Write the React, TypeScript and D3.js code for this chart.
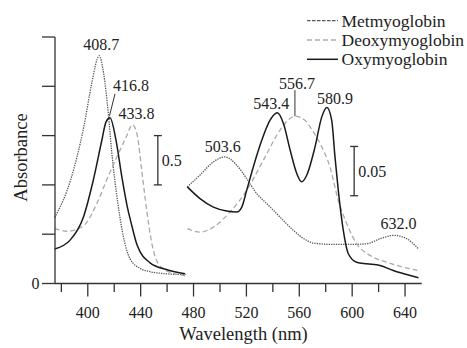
import React from 'react';
import * as d3 from 'd3';

const W = 467;
const H = 348;

// axis ticks
const xMajorTicks = [400, 440, 480, 520, 560, 600, 640];
const xMinorTicks = [380, 420, 460, 500, 540, 580, 620];
const yTicks = [0, 0.5, 1, 1.5, 2, 2.5];

// Soret region (left panel)
const metLeftWl = [375, 387, 397, 403, 407, 408.7, 412, 415.5, 418, 423, 427.5, 432, 440, 447, 458, 474];
const metLeftAbs = [0.67, 1.05, 1.59, 2.03, 2.27, 2.31, 2.13, 1.73, 1.35, 0.79, 0.44, 0.25, 0.15, 0.12, 0.1, 0.09];
const oxyLeftWl = [375, 386.6, 396.6, 404.2, 410.6, 413.8, 416.8, 421.4, 425.9, 429.7, 432.7, 437.3, 447.1, 460, 473.6];
const oxyLeftAbs = [0.35, 0.44, 0.67, 1.05, 1.45, 1.64, 1.68, 1.45, 1.07, 0.79, 0.62, 0.39, 0.21, 0.14, 0.1];
const deoxyLeftWl = [375, 384.1, 391.6, 399.2, 406.8, 414.3, 421.9, 428.9, 433.8, 437.3, 440.8, 444.6, 448.4, 453.4, 460.9, 473.6];
const deoxyLeftAbs = [0.56, 0.53, 0.55, 0.62, 0.81, 1.05, 1.28, 1.48, 1.61, 1.51, 1.15, 0.74, 0.41, 0.2, 0.12, 0.08];

// Q-band region (right panel, x10 scale)
const metRightWl = [475.3, 484.9, 495, 503.6, 512.7, 520.2, 527.8, 535.4, 545.4, 555.5, 565.6, 570.6, 585.8, 598.4, 611, 621.1, 632, 641.3, 650.1];
const metRightAbs = [0.098, 0.11, 0.1233, 0.1284, 0.12, 0.1064, 0.0912, 0.081, 0.0674, 0.0539, 0.0437, 0.041, 0.0396, 0.0396, 0.0403, 0.0454, 0.0488, 0.0454, 0.0353];
const oxyRightWl = [475.3, 484.9, 495, 505.1, 512.7, 516.5, 520.2, 525.2, 531.6, 537.9, 543.4, 548, 553.1, 558.1, 561.7, 565.6, 571.9, 577, 580.9, 584.5, 587, 589.5, 593.3, 597.1, 603.4, 611, 621.1, 631.1, 641.3, 650.1];
const oxyRightAbs = [0.098, 0.0861, 0.0775, 0.0735, 0.0725, 0.0775, 0.0945, 0.1182, 0.1453, 0.1657, 0.1731, 0.1623, 0.1352, 0.1115, 0.1031, 0.1098, 0.1385, 0.169, 0.1786, 0.1657, 0.1284, 0.0945, 0.0539, 0.0302, 0.0216, 0.02, 0.0183, 0.0132, 0.0091, 0.0058];
const deoxyRightWl = [475.3, 484.9, 495, 507.6, 520.2, 532.8, 545.4, 553, 556.7, 565.6, 568.1, 575.7, 583.2, 589.5, 595.9, 603.4, 613.5, 626.1, 638.7, 650.1];
const deoxyRightAbs = [0.0556, 0.0521, 0.0572, 0.0725, 0.0945, 0.125, 0.1555, 0.1674, 0.1697, 0.1639, 0.1588, 0.142, 0.1182, 0.0843, 0.0607, 0.0403, 0.0285, 0.0216, 0.0166, 0.0132];

// peak labels
const leftPeaks = [
  { label: '408.7', wl: 408.7, abs: 2.31 },
  { label: '416.8', wl: 416.8, abs: 1.68 },
  { label: '433.8', wl: 433.8, abs: 1.61 },
];
const rightPeaks = [
  { label: '503.6', wl: 503.6, abs: 0.1284 },
  { label: '543.4', wl: 543.4, abs: 0.1731 },
  { label: '556.7', wl: 556.7, abs: 0.1697 },
  { label: '580.9', wl: 580.9, abs: 0.1786 },
  { label: '632.0', wl: 632.0, abs: 0.0488 },
];

const legendNames = ['Metmyoglobin', 'Deoxymyoglobin', 'Oxymyoglobin'];

const FONT = "'Liberation Serif', 'DejaVu Serif', serif";

const styles = {
  met: { stroke: '#555', dash: '1.3,1.1', width: 1.3 },
  deoxy: { stroke: '#aaa', dash: '5,3', width: 1.3 },
  oxy: { stroke: '#1a1a1a', dash: '', width: 1.5 },
};

const x = d3.scaleLinear().domain([375.2, 652.6]).range([55, 421.7]);
const yL = d3.scaleLinear().domain([0, 2.5]).range([283.5, 37]);
const yR = d3.scaleLinear().domain([0, 0.25]).range([283.5, 37]);

function pathOf(wl: number[], ab: number[], y: d3.ScaleLinear<number, number>) {
  const pts = wl.map((w, i) => [w, ab[i]] as [number, number]);
  return d3
    .line<[number, number]>()
    .x((d) => x(d[0]))
    .y((d) => y(d[1]))
    .curve(d3.curveMonotoneX)(pts) as string;
}

const T = (props: any) => (
  <text fill="#222" {...props} style={{ fontFamily: FONT }} />
);

export default function App() {
  const axisColor = '#333';
  const axisY = yL(0);
  const axisX = x.range()[0];

  const curves = [
    { d: pathOf(metLeftWl, metLeftAbs, yL), s: styles.met },
    { d: pathOf(deoxyLeftWl, deoxyLeftAbs, yL), s: styles.deoxy },
    { d: pathOf(oxyLeftWl, oxyLeftAbs, yL), s: styles.oxy },
    { d: pathOf(metRightWl, metRightAbs, yR), s: styles.met },
    { d: pathOf(deoxyRightWl, deoxyRightAbs, yR), s: styles.deoxy },
    { d: pathOf(oxyRightWl, oxyRightAbs, yR), s: styles.oxy },
  ];

  const legendStyles = [styles.met, styles.deoxy, styles.oxy];

  // scale bars
  const barL = { wl: 453, a0: 1.0, a1: 1.5 };
  const barR = { wl: 601.5, a0: 0.089, a1: 0.139 };

  // label offsets (pixels from peak)
  const leftLabelPos = [
    { dx: 2, dy: -6 },
    { dx: 21, dy: -27 },
    { dx: 4, dy: -6 },
  ];
  const rightLabelPos = [
    { dx: -2, dy: -5 },
    { dx: -6, dy: -4 },
    { dx: 2, dy: -27 },
    { dx: 8, dy: -3 },
    { dx: 4, dy: -6 },
  ];

  return (
    <svg
      width={W}
      height={H}
      style={{ position: 'absolute', left: 0, top: 0, background: '#fff', fontFamily: FONT }}
    >
      {/* curves */}
      {curves.map((c, i) => (
        <path
          key={i}
          d={c.d}
          fill="none"
          stroke={c.s.stroke}
          strokeWidth={c.s.width}
          strokeDasharray={c.s.dash || undefined}
        />
      ))}

      {/* y axis */}
      <line x1={axisX} x2={axisX} y1={yL(2.5)} y2={axisY} stroke={axisColor} strokeWidth={1.3} />
      {yTicks.map((t) => (
        <line key={t} x1={axisX - 13} x2={axisX} y1={yL(t)} y2={yL(t)} stroke={axisColor} strokeWidth={1.3} />
      ))}
      <T x={35.5} y={axisY + 5.5} fontSize={16} textAnchor="middle">0</T>

      {/* x axis */}
      <line x1={axisX} x2={x.range()[1]} y1={axisY} y2={axisY} stroke={axisColor} strokeWidth={1.3} />
      {xMajorTicks.map((t) => (
        <g key={t}>
          <line x1={x(t)} x2={x(t)} y1={axisY} y2={axisY + 13} stroke={axisColor} strokeWidth={1.3} />
          <T x={x(t)} y={axisY + 34} fontSize={16} textAnchor="middle">{t}</T>
        </g>
      ))}
      {xMinorTicks.map((t) => (
        <line key={t} x1={x(t)} x2={x(t)} y1={axisY} y2={axisY + 8.5} stroke={axisColor} strokeWidth={1.3} />
      ))}

      {/* axis titles */}
      <T x={243.5} y={340} fontSize={18.5} textAnchor="middle">Wavelength (nm)</T>
      <T transform={`translate(26.5,157.5) rotate(-90)`} fontSize={18.5} textAnchor="middle">
        Absorbance
      </T>

      {/* peak labels */}
      {leftPeaks.map((p, i) => (
        <T
          key={p.label}
          x={x(p.wl) + leftLabelPos[i].dx}
          y={yL(p.abs) + leftLabelPos[i].dy}
          fontSize={16}
          textAnchor="middle"
        >
          {p.label}
        </T>
      ))}
      <line x1={x(416.8) + 5} y1={yL(1.68) - 24} x2={x(416.8) - 0.5} y2={yL(1.68) - 2} stroke="#333" strokeWidth={1} />
      {rightPeaks.map((p, i) => (
        <T
          key={p.label}
          x={x(p.wl) + rightLabelPos[i].dx}
          y={yR(p.abs) + rightLabelPos[i].dy}
          fontSize={16}
          textAnchor="middle"
        >
          {p.label}
        </T>
      ))}
      <line x1={x(556.7)} y1={yR(0.1697) - 26} x2={x(556.7)} y2={yR(0.1697)} stroke="#333" strokeWidth={1} />

      {/* scale bars */}
      {[
        { b: barL, y: yL, label: '0.5' },
        { b: barR, y: yR, label: '0.05' },
      ].map(({ b, y, label }) => (
        <g key={label}>
          <line x1={x(b.wl)} x2={x(b.wl)} y1={y(b.a0)} y2={y(b.a1)} stroke="#333" strokeWidth={1.3} />
          <line x1={x(b.wl) - 4} x2={x(b.wl) + 4} y1={y(b.a0)} y2={y(b.a0)} stroke="#333" strokeWidth={1.3} />
          <line x1={x(b.wl) - 4} x2={x(b.wl) + 4} y1={y(b.a1)} y2={y(b.a1)} stroke="#333" strokeWidth={1.3} />
          <T x={x(b.wl) + 4} y={(y(b.a0) + y(b.a1)) / 2 + 6} fontSize={16}>{label}</T>
        </g>
      ))}

      {/* legend */}
      {legendNames.map((name, i) => {
        const ly = 20.7 + i * 19.3;
        const s = legendStyles[i];
        return (
          <g key={name}>
            <line
              x1={307}
              x2={338}
              y1={ly}
              y2={ly}
              stroke={s.stroke}
              strokeWidth={s.width}
              strokeDasharray={i === 0 ? '3.5,1.5' : s.dash || undefined}
            />
            <T x={341.5} y={ly + 6} fontSize={17.5}>{name}</T>
          </g>
        );
      })}
    </svg>
  );
}
